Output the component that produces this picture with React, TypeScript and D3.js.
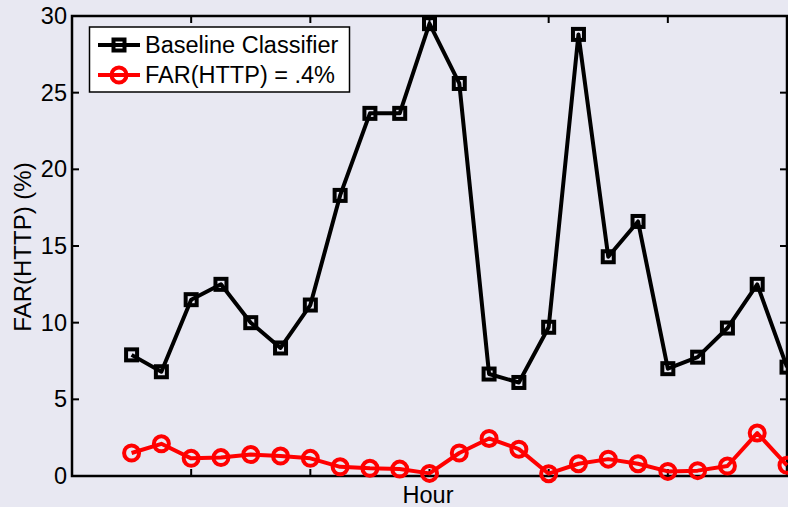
import React, { useEffect, useRef } from "react";
import * as d3 from "d3";

// hours 2..24
const hours = [2, 3, 4, 5, 6, 7, 8, 9, 10, 11, 12, 13, 14, 15, 16, 17, 18, 19, 20, 21, 22, 23, 24];
const baseline = [7.9, 6.8, 11.5, 12.5, 10.0, 8.35, 11.15, 18.3, 23.65, 23.65, 29.5, 25.6, 6.65, 6.1, 9.7, 28.8, 14.3, 16.6, 7.0, 7.75, 9.65, 12.5, 7.1];
const farHttp = [1.5, 2.1, 1.15, 1.2, 1.4, 1.3, 1.15, 0.6, 0.5, 0.45, 0.17, 1.5, 2.45, 1.75, 0.15, 0.8, 1.1, 0.8, 0.3, 0.35, 0.65, 2.8, 0.7];
const xTicks = [0, 4, 8, 12, 16, 20, 24];
const yTicks = [0, 5, 10, 15, 20, 25, 30];
const seriesNames = ["Baseline Classifier", "FAR(HTTP) = .4%"];

const W = 788, H = 507;
const FONT = "'Liberation Sans', Arial, Helvetica, sans-serif";
const FS = 23.5;

export default function App() {
  const ref = useRef<SVGSVGElement>(null);

  useEffect(() => {
    const svg = d3.select(ref.current);
    svg.selectAll("*").remove();

    const left = 72, right = 787, top = 16, bottom = 476;
    const x = d3.scaleLinear().domain([0, 24]).range([left, right]);
    const y = d3.scaleLinear().domain([0, 30]).range([bottom, top]);

    svg.append("rect").attr("width", W).attr("height", H).attr("fill", "#e8e8f2");

    const tl = 7;
    const g = svg.append("g").attr("stroke", "#000").attr("stroke-width", 2);
    // inward ticks on all four sides
    xTicks.forEach(t => {
      g.append("line").attr("x1", x(t)).attr("x2", x(t)).attr("y1", bottom).attr("y2", bottom - tl);
      g.append("line").attr("x1", x(t)).attr("x2", x(t)).attr("y1", top).attr("y2", top + tl);
    });
    yTicks.forEach(t => {
      g.append("line").attr("x1", left).attr("x2", left + tl).attr("y1", y(t)).attr("y2", y(t));
      g.append("line").attr("x1", right).attr("x2", right - tl).attr("y1", y(t)).attr("y2", y(t));
    });
    svg.append("rect")
      .attr("x", left).attr("y", top).attr("width", right - left).attr("height", bottom - top)
      .attr("fill", "none").attr("stroke", "#000").attr("stroke-width", 2.5);

    svg.append("g").selectAll("text").data(yTicks).enter().append("text")
      .attr("x", left - 5).attr("y", d => y(d) + 8)
      .attr("text-anchor", "end").attr("font-family", FONT).attr("font-size", FS)
      .text(d => d);

    svg.append("text").attr("x", 428).attr("y", 503).attr("text-anchor", "middle")
      .attr("font-family", FONT).attr("font-size", FS).text("Hour");
    svg.append("text").attr("transform", "translate(31,247) rotate(-90)").attr("text-anchor", "middle")
      .attr("font-family", FONT).attr("font-size", 24).text("FAR(HTTP) (%)");

    const line = d3.line<number>().x((d, i) => x(hours[i])).y(d => y(d));

    // red series
    svg.append("path").datum(farHttp).attr("d", line).attr("fill", "none")
      .attr("stroke", "#ff0000").attr("stroke-width", 4).attr("stroke-linejoin", "round");
    svg.append("g").selectAll("circle").data(farHttp).enter().append("circle")
      .attr("cx", (d, i) => x(hours[i])).attr("cy", d => y(d)).attr("r", 7.5)
      .attr("fill", "none").attr("stroke", "#ff0000").attr("stroke-width", 4);

    // black series
    svg.append("path").datum(baseline).attr("d", line).attr("fill", "none")
      .attr("stroke", "#000").attr("stroke-width", 4).attr("stroke-linejoin", "round");
    const s = 11;
    svg.append("g").selectAll("rect").data(baseline).enter().append("rect")
      .attr("x", (d, i) => x(hours[i]) - s / 2).attr("y", d => y(d) - s / 2)
      .attr("width", s).attr("height", s)
      .attr("fill", "none").attr("stroke", "#000").attr("stroke-width", 4);

    // legend
    const lg = svg.append("g");
    lg.append("rect").attr("x", 89.5).attr("y", 27).attr("width", 260).attr("height", 65)
      .attr("fill", "#fff").attr("stroke", "#000").attr("stroke-width", 1.5);
    const rows = [45, 75];
    const colors = ["#000", "#ff0000"];
    rows.forEach((ry, i) => {
      lg.append("line").attr("x1", 98).attr("x2", 140).attr("y1", ry).attr("y2", ry)
        .attr("stroke", colors[i]).attr("stroke-width", 4);
      if (i === 0) {
        lg.append("rect").attr("x", 119 - s / 2).attr("y", ry - s / 2).attr("width", s).attr("height", s)
          .attr("fill", "none").attr("stroke", colors[i]).attr("stroke-width", 4);
      } else {
        lg.append("circle").attr("cx", 119).attr("cy", ry).attr("r", 7.5)
          .attr("fill", "none").attr("stroke", colors[i]).attr("stroke-width", 4);
      }
      lg.append("text").attr("x", 145).attr("y", ry + 8).attr("font-family", FONT).attr("font-size", FS)
        .text(seriesNames[i]);
    });
  }, []);

  return (
    <svg ref={ref} width={W} height={H} style={{ position: "absolute", left: 0, top: 0, display: "block" }} />
  );
}
